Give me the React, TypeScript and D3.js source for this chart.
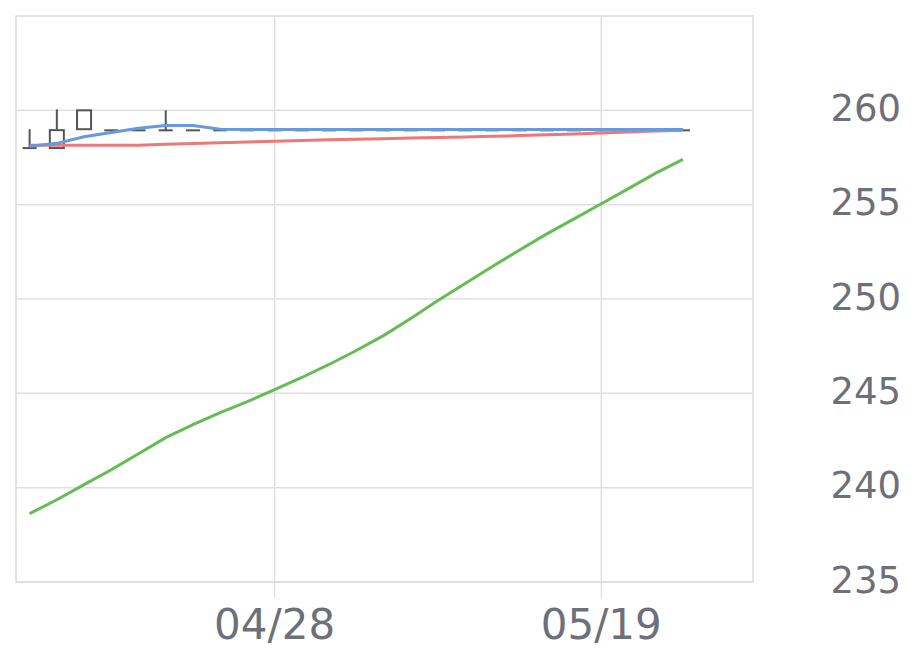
import React from "react";
import * as d3 from "d3";

const dates = [
  "04/12", "04/14", "04/16", "04/18", "04/20", "04/21", "04/23", "04/25", "04/26",
  "04/28", "04/30", "05/02", "05/03", "05/05", "05/07", "05/09", "05/10", "05/12",
  "05/14", "05/16", "05/17", "05/19", "05/21", "05/23", "05/24", "05/26", "05/28",
];
const tickLabels = ["04/28", "05/19"];
const yTicks = [235, 240, 245, 250, 255, 260];

const opens = [258.0, 258.0, 259.0, 258.94, 258.94, 258.94, 258.94, 258.94, 258.94, 258.94, 258.94, 258.94, 258.94, 258.94, 258.94, 258.94, 258.94, 258.94, 258.94, 258.94, 258.94, 258.94, 258.94, 258.94, 258.94];
const closes = [258.0, 258.95, 260.0, 258.94, 258.94, 258.94, 258.94, 258.94, 258.94, 258.94, 258.94, 258.94, 258.94, 258.94, 258.94, 258.94, 258.94, 258.94, 258.94, 258.94, 258.94, 258.94, 258.94, 258.94, 258.94];
const highs = [259.0, 260.05, 260.0, 258.94, 258.94, 260.0, 258.94, 258.94, 258.94, 258.94, 258.94, 258.94, 258.94, 258.94, 258.94, 258.94, 258.94, 258.94, 258.94, 258.94, 258.94, 258.94, 258.94, 258.94, 258.94];
const lows = [258.0, 258.0, 259.0, 258.94, 258.94, 258.94, 258.94, 258.94, 258.94, 258.94, 258.94, 258.94, 258.94, 258.94, 258.94, 258.94, 258.94, 258.94, 258.94, 258.94, 258.94, 258.94, 258.94, 258.94, 258.94];

const maShort = [258.1, 258.25, 258.6, 258.82, 259.05, 259.2, 259.2, 259.0, 258.99, 258.99, 258.99, 258.99, 258.99, 258.99, 258.99, 258.99, 258.99, 258.99, 258.99, 258.99, 258.99, 258.99, 258.99, 258.99, 258.99];
const maMid = [258.15, 258.15, 258.15, 258.15, 258.15, 258.2, 258.24, 258.28, 258.32, 258.36, 258.4, 258.44, 258.47, 258.5, 258.53, 258.56, 258.59, 258.62, 258.66, 258.7, 258.75, 258.8, 258.85, 258.9, 258.95];
const maLong = [238.62, 239.36, 240.16, 240.95, 241.8, 242.65, 243.34, 243.98, 244.56, 245.2, 245.84, 246.53, 247.27, 248.06, 248.97, 249.92, 250.82, 251.72, 252.6, 253.45, 254.25, 255.05, 255.85, 256.67, 257.4];

const W = 920, H = 669;
const L = 16, R = 753, T = 16, B = 582;

export default function App() {
  const x = d3.scaleBand<string>().domain(dates).range([L, R - 2]).padding(0);
  const cx = (i: number) => (x(dates[i]) as number) + x.bandwidth() / 2;
  const y = d3.scaleLinear().domain([235, 265]).range([B, T]);
  const line = (vals: number[]) =>
    d3.line<number>().x((_, i) => cx(i)).y((v) => y(v))(vals) as string;
  const bw = 14;
  const grey = "#6e7079";
  return (
    <div style={{ position: "absolute", left: 0, top: 0 }}>
      <svg width={W} height={H} style={{ display: "block", fontFamily: "DejaVu Sans" }}>
        <rect x={0} y={0} width={W} height={H} fill="#fff" />
        {yTicks.map((t) => (
          <line key={t} x1={L} x2={R} y1={y(t)} y2={y(t)} stroke="#e0e0e0" strokeWidth={1.5} />
        ))}
        {tickLabels.map((d) => {
          const px = cx(dates.indexOf(d));
          return (
            <g key={d}>
              <line x1={px} x2={px} y1={T} y2={B} stroke="#e0e0e0" strokeWidth={1.5} />
              <line x1={px} x2={px} y1={B} y2={B + 16} stroke="#ccd6eb" strokeWidth={1} />
              <text x={px} y={639} textAnchor="middle" fontSize={42} fill={grey}>{d}</text>
            </g>
          );
        })}
        <rect x={L} y={T} width={R - L} height={B - T} fill="none" stroke="#dcdcdc" strokeWidth={1.5} />
        {yTicks.map((t) => (
          <text key={t} x={901} y={y(t)} textAnchor="end" dominantBaseline="middle" fontSize={37} fill={grey}>{t}</text>
        ))}
        {opens.map((o, i) => {
          const c = closes[i];
          const px = cx(i);
          const top = y(Math.max(o, c));
          const bot = y(Math.min(o, c));
          return (
            <g key={i} stroke="#555" strokeWidth={2} fill="none">
              <line x1={px} x2={px} y1={y(highs[i])} y2={top} />
              <line x1={px} x2={px} y1={bot} y2={y(lows[i])} />
              {bot - top < 1.5 ? (
                <line x1={px - bw / 2} x2={px + bw / 2} y1={top} y2={top} />
              ) : (
                <rect x={px - bw / 2} y={top} width={bw} height={bot - top} fill="#fff" />
              )}
            </g>
          );
        })}
        <path d={line(maMid)} fill="none" stroke="#ee7777" strokeWidth={3} />
        <path d={line(maShort)} fill="none" stroke="#6699dd" strokeWidth={3} />
        <path d={line(maLong)} fill="none" stroke="#66bb55" strokeWidth={3} />
      </svg>
    </div>
  );
}
